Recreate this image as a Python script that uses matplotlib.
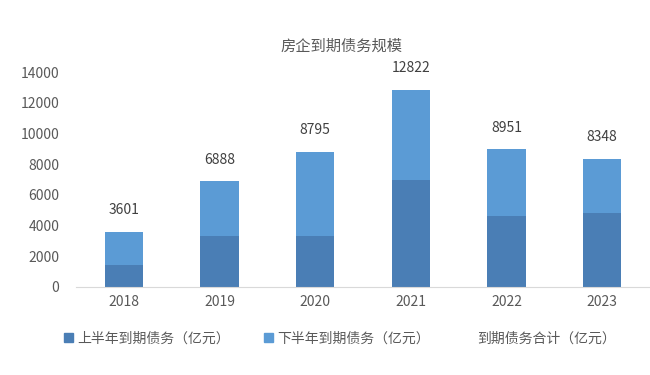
import matplotlib
matplotlib.use("Agg")
import matplotlib.pyplot as plt
from matplotlib.patches import Patch

plt.rcParams['font.family'] = ['Noto Sans CJK SC', 'DejaVu Sans']

years = ['2018', '2019', '2020', '2021', '2022', '2023']
totals = [3601, 6888, 8795, 12822, 8951, 8348]
first_half = [1430, 3340, 3300, 6980, 4620, 4820]
second_half = [t - f for t, f in zip(totals, first_half)]

dark = '#4A7EB5'
light = '#5B9BD5'
txt = '#595959'

fig = plt.figure(figsize=(6.5, 3.75), dpi=100)
ax = fig.add_axes([0.117, 0.235, 0.883, 0.573])

x = range(len(years))
ax.bar(x, first_half, width=0.4, color=dark)
ax.bar(x, second_half, width=0.4, bottom=first_half, color=light)
for i, t in enumerate(totals):
    ax.text(i, t + 950, str(t), ha='center', va='bottom', fontsize=10, color='#404040')

ax.set_xlim(-0.5, len(years) - 0.5)
ax.set_ylim(0, 14000)
ax.set_yticks(range(0, 14001, 2000))
ax.set_xticks(list(x))
ax.set_xticklabels(years)
ax.tick_params(axis='both', length=0, labelsize=10, labelcolor=txt)
ax.tick_params(axis='y', pad=12)
ax.tick_params(axis='x', pad=6)
for s in ['top', 'right', 'left']:
    ax.spines[s].set_visible(False)
ax.spines['bottom'].set_color('#D9D9D9')

fig.text(0.525, 0.877, '房企到期债务规模', ha='center', va='center', fontsize=11, color=txt)

handles = [Patch(color=dark), Patch(color=light), Patch(color='none')]
labels = ['上半年到期债务（亿元）', '下半年到期债务（亿元）', '到期债务合计（亿元）']
fig.legend(handles, labels, loc='center', bbox_to_anchor=(0.523, 0.098), ncol=3,
           frameon=False, fontsize=10, labelcolor=txt, handlelength=0.6, handleheight=0.6,
           handletextpad=0.3, columnspacing=2.5)

fig.savefig('out.png', dpi=100, facecolor='white')
